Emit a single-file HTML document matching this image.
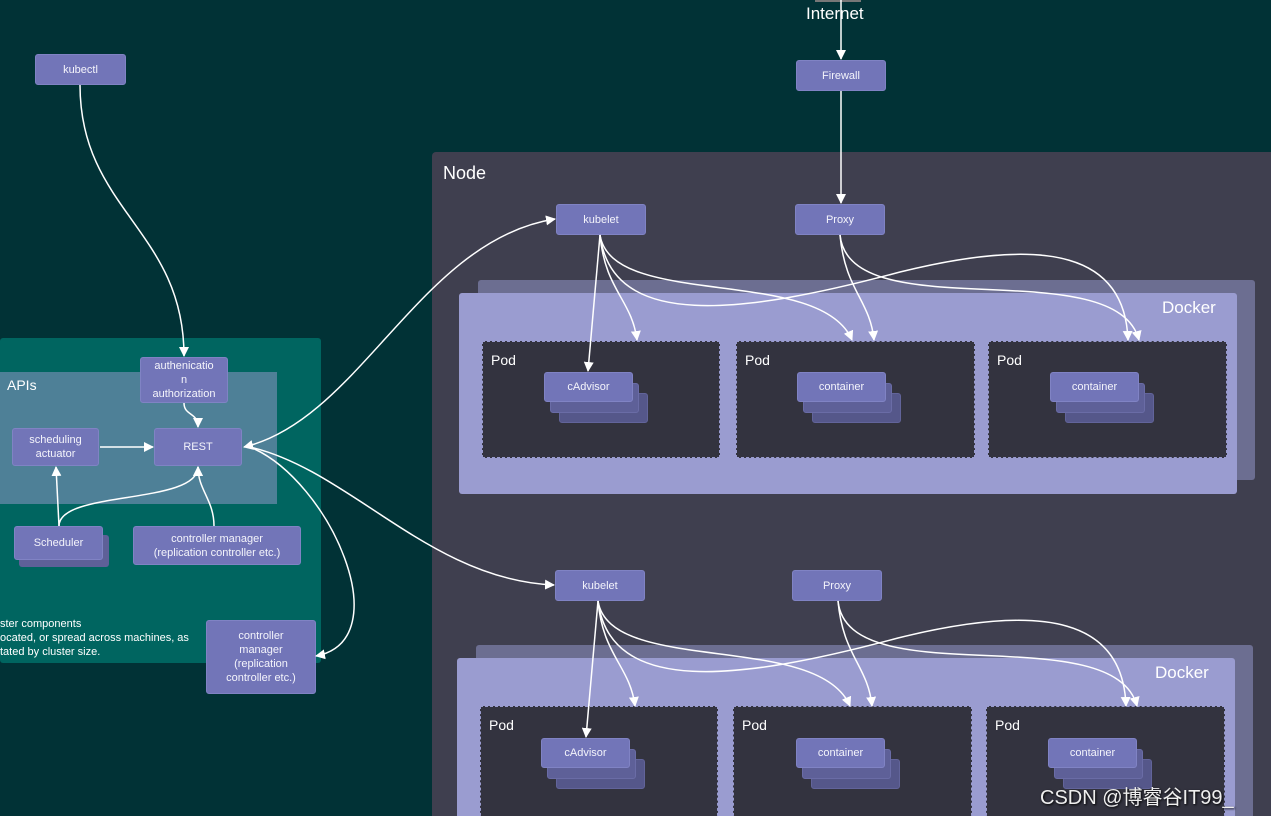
<!DOCTYPE html>
<html><head><meta charset="utf-8"><style>
*{margin:0;padding:0;box-sizing:border-box}
html,body{width:1271px;height:816px;overflow:hidden}
body{background:#013236;font-family:"Liberation Sans","Noto Sans CJK SC",sans-serif;position:relative;color:#fff}
.a{position:absolute}
.b{position:absolute;background:#7275b8;border-radius:3px;color:#f4f4fb;font-size:11px;display:flex;align-items:center;justify-content:center;text-align:center;line-height:14px;border:1px solid #8083c4}
.pod{position:absolute;background:#33333f;border:1px dashed #9a9cd0}
.pod span{position:absolute;left:8px;top:10px;font-size:14px}
.l2{position:absolute;background:#5e6098;border-radius:3px;border:1px solid #6a6ca6}
.l3{position:absolute;background:#55578a;border-radius:3px;border:1px solid #62649a}
</style></head><body>
<div class="a" style="left:815px;top:0;width:46px;height:2px;background:#777"></div>
<div class="a" style="left:806px;top:4px;font-size:17px">Internet</div>
<div class="b" style="left:796px;top:60px;width:90px;height:31px">Firewall</div>
<div class="b" style="left:35px;top:54px;width:91px;height:31px">kubectl</div>

<div class="a" style="left:0;top:338px;width:321px;height:325px;background:#006560;border-radius:3px"></div>
<div class="a" style="left:0;top:372px;width:277px;height:132px;background:#4e8097"></div>
<div class="a" style="left:7px;top:377px;font-size:14px">APIs</div>
<div class="b" style="left:140px;top:357px;width:88px;height:46px">authenicatio<br>n<br>authorization</div>
<div class="b" style="left:154px;top:428px;width:88px;height:38px">REST</div>
<div class="b" style="left:12px;top:428px;width:87px;height:38px">scheduling<br>actuator</div>
<div class="a" style="left:19px;top:535px;width:90px;height:32px;background:#5e6098;border-radius:3px"></div>
<div class="b" style="left:14px;top:526px;width:89px;height:34px">Scheduler</div>
<div class="b" style="left:133px;top:526px;width:168px;height:39px">controller manager<br>(replication controller etc.)</div>
<div class="a" style="left:0;top:617px;font-size:11px;line-height:14px">ster components<br>ocated, or spread across machines, as<br>tated by cluster size.</div>
<div class="b" style="left:206px;top:620px;width:110px;height:74px">controller<br>manager<br>(replication<br>controller etc.)</div>

<div class="a" style="left:432px;top:152px;width:839px;height:664px;background:#3f3f4f;border-radius:4px 0 0 0"></div>
<div class="a" style="left:443px;top:163px;font-size:18px">Node</div>

<div class="a" style="left:478px;top:280px;width:777px;height:200px;background:#6c6e91;border-radius:3px"></div>
<div class="a" style="left:459px;top:293px;width:778px;height:201px;background:#9a9cd0;border-radius:3px"></div>
<div class="a" style="left:1162px;top:298px;font-size:17px">Docker</div>
<div class="pod" style="left:482px;top:341px;width:238px;height:117px"><span>Pod</span></div>
<div class="pod" style="left:736px;top:341px;width:239px;height:117px"><span>Pod</span></div>
<div class="pod" style="left:988px;top:341px;width:239px;height:117px"><span>Pod</span></div>
<div class="l3" style="left:559px;top:393px;width:89px;height:30px"></div>
<div class="l2" style="left:550px;top:383px;width:89px;height:30px"></div>
<div class="b" style="left:544px;top:372px;width:89px;height:30px">cAdvisor</div>
<div class="l3" style="left:812px;top:393px;width:89px;height:30px"></div>
<div class="l2" style="left:803px;top:383px;width:89px;height:30px"></div>
<div class="b" style="left:797px;top:372px;width:89px;height:30px">container</div>
<div class="l3" style="left:1065px;top:393px;width:89px;height:30px"></div>
<div class="l2" style="left:1056px;top:383px;width:89px;height:30px"></div>
<div class="b" style="left:1050px;top:372px;width:89px;height:30px">container</div>
<div class="b" style="left:556px;top:204px;width:90px;height:31px">kubelet</div>
<div class="b" style="left:795px;top:204px;width:90px;height:31px">Proxy</div>

<div class="a" style="left:476px;top:645px;width:777px;height:171px;background:#6c6e91;border-radius:3px 3px 0 0"></div>
<div class="a" style="left:457px;top:658px;width:778px;height:158px;background:#9a9cd0;border-radius:3px 3px 0 0"></div>
<div class="a" style="left:1155px;top:663px;font-size:17px">Docker</div>
<div class="pod" style="left:480px;top:706px;width:238px;height:115px"><span>Pod</span></div>
<div class="pod" style="left:733px;top:706px;width:239px;height:115px"><span>Pod</span></div>
<div class="pod" style="left:986px;top:706px;width:239px;height:115px"><span>Pod</span></div>
<div class="l3" style="left:556px;top:759px;width:89px;height:30px"></div>
<div class="l2" style="left:547px;top:749px;width:89px;height:30px"></div>
<div class="b" style="left:541px;top:738px;width:89px;height:30px">cAdvisor</div>
<div class="l3" style="left:811px;top:759px;width:89px;height:30px"></div>
<div class="l2" style="left:802px;top:749px;width:89px;height:30px"></div>
<div class="b" style="left:796px;top:738px;width:89px;height:30px">container</div>
<div class="l3" style="left:1063px;top:759px;width:89px;height:30px"></div>
<div class="l2" style="left:1054px;top:749px;width:89px;height:30px"></div>
<div class="b" style="left:1048px;top:738px;width:89px;height:30px">container</div>
<div class="b" style="left:555px;top:570px;width:90px;height:31px">kubelet</div>
<div class="b" style="left:792px;top:570px;width:90px;height:31px">Proxy</div>

<svg class="a" style="left:0;top:0" width="1271" height="816">
<defs><marker id="m" markerWidth="10" markerHeight="10" refX="9" refY="5" orient="auto-start-reverse" markerUnits="userSpaceOnUse"><path d="M0,0 L10,5 L0,10 z" fill="#fff"/></marker></defs>
<g fill="none" stroke="#fff" stroke-width="1.5" marker-end="url(#m)">
<path d="M841 0 L841 59"/>
<path d="M841 91 L841 203"/>
<path d="M80 85 C80 210,184 230,184 356"/>
<path d="M184 403 C184 416,198 412,198 427"/>
<path d="M100 447 L153 447"/>
<path d="M59 526 L56 467"/>
<path d="M59 526 C59 490,198 505,198 467"/>
<path d="M214 526 C214 500,198 490,198 467"/>
<path d="M244 447 C360 420,420 240,555 219" marker-start="url(#m)"/>
<path d="M250 447 C350 470,430 580,554 585"/>
<path d="M250 447 C330 480,400 640,316 656"/>
<g id="n">
<path d="M600 235 L588 371"/>
<path d="M600 235 C605 290,632 300,637 340"/>
<path d="M600 235 C612 310,820 265,852 340"/>
<path d="M600 235 C612 330,740 315,900 272 C1050 235,1125 255,1128 340"/>
<path d="M840 235 C845 290,870 300,874 340"/>
<path d="M840 235 C850 330,1115 250,1139 340"/>
</g>
<use href="#n" transform="translate(-2,366)"/>
</g>
</svg>
<div class="a" style="left:1040px;top:781px;font-size:20px;color:#eee;text-shadow:1px 1px 2px #000">CSDN @博睿谷IT99_</div>
</body></html>
